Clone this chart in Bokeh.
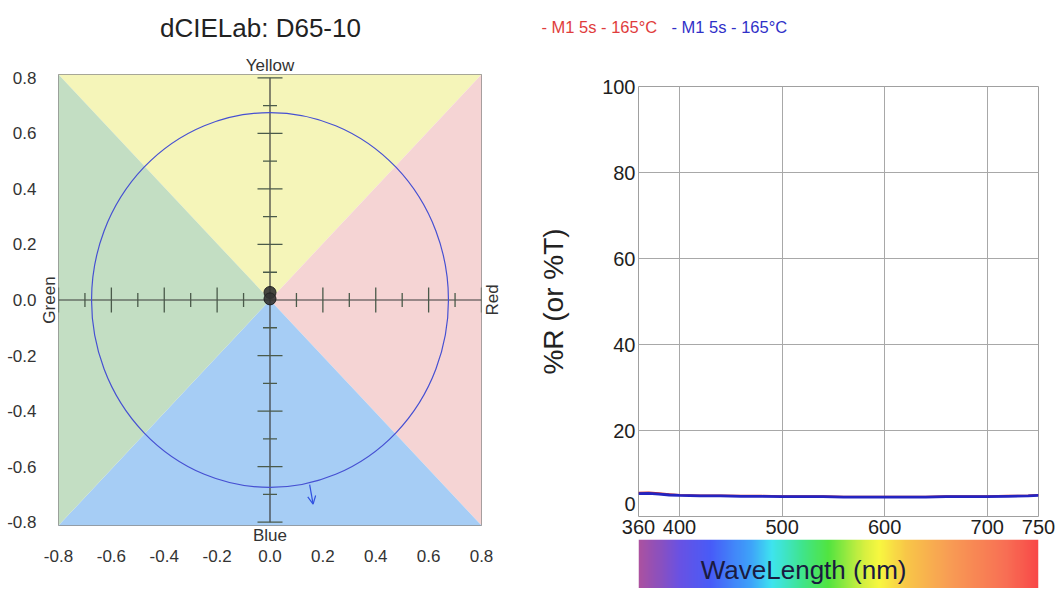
import numpy as np
from math import pi
from bokeh.plotting import figure
from bokeh.layouts import row, column
from bokeh.models import (Arrow, OpenHead, FixedTicker, LinearAxis, Range1d,
                          PrintfTickFormatter, LinearColorMapper)
from bokeh.core.properties import value
from bokeh.embed import file_html
from bokeh.resources import INLINE

FONT = "Liberation Sans"

# ---------------- Left chart data (dCIELab) ----------------
title_text = "dCIELab: D65-10"
axis_ticks = [-0.8, -0.6, -0.4, -0.2, 0.0, 0.2, 0.4, 0.6, 0.8]
major_marks = [-0.8, -0.6, -0.4, -0.2, 0.2, 0.4, 0.6, 0.8]
minor_marks = [-0.7, -0.5, -0.3, -0.1, 0.1, 0.3, 0.5, 0.7]
x_extent = 0.8
y_extent = 0.812
quad_names = ["Yellow", "Red", "Blue", "Green"]
quad_colors = ["#f5f5b9", "#f5d4d4", "#a6cdf5", "#c3dec3"]
da_values = [0.0, 0.0]
db_values = [0.027, 0.004]
tolerance_radius = 0.675
arrow_start = (0.150, -0.665)
arrow_end = (0.163, -0.735)

# ---------------- Right chart data (spectrum) ----------------
wavelengths = [360, 370, 380, 390, 400, 420, 440, 460, 480, 500, 520, 540,
               560, 580, 600, 620, 640, 660, 680, 700, 720, 740, 750]
series_red = [5.5, 5.6, 5.4, 5.2, 5.0, 4.9, 4.9, 4.8, 4.8, 4.7, 4.7, 4.7,
              4.6, 4.6, 4.6, 4.6, 4.6, 4.7, 4.7, 4.7, 4.8, 4.9, 5.0]
series_blue = [5.3, 5.4, 5.2, 5.0, 4.9, 4.8, 4.8, 4.7, 4.7, 4.6, 4.6, 4.6,
               4.5, 4.5, 4.5, 4.5, 4.5, 4.6, 4.6, 4.6, 4.7, 4.8, 4.9]
legend_labels = ["- M1 5s - 165°C", "- M1 5s - 165°C"]
legend_colors = ["#e03c3c", "#3030c8"]
x_tick_values = [360, 400, 500, 600, 700, 750]
x_grid_values = [400, 500, 600, 700]
y_tick_values = [3, 20, 40, 60, 80, 100]   # "0" label sits slightly above the baseline
y_grid_values = [20, 40, 60, 80]
y_axis_title = "%R (or %T)"
x_axis_title = "WaveLength (nm)"
spectrum_nm = [360, 380, 400, 430, 470, 490, 520, 545, 580, 595, 620, 660, 720, 750]
spectrum_rgb = [(172, 82, 160), (140, 80, 190), (105, 82, 228), (72, 92, 248),
                (62, 165, 250), (62, 228, 240), (64, 228, 140), (82, 228, 64),
                (215, 240, 64), (248, 248, 64), (248, 200, 72), (248, 160, 84),
                (248, 110, 84), (248, 72, 72)]

TOTAL_W = 1060
TOP_H = 48
P2_LEFT = 124

# ================= Top strip: title + legend =================
top = figure(frame_width=TOTAL_W, frame_height=TOP_H, min_border=0,
             min_border_left=0, min_border_right=0, min_border_top=0, min_border_bottom=0,
             x_range=Range1d(0, TOTAL_W), y_range=Range1d(TOP_H, 0),
             x_axis_location=None, y_axis_location=None,
             toolbar_location=None, output_backend="svg")
top.grid.visible = False
top.outline_line_color = None
top.text(x=[260], y=[27], text=[title_text], text_font=value(FONT),
         text_font_size="26px", text_color="#222222", text_align="center",
         text_baseline="middle")
top.text(x=[541, 671], y=[26, 26], text=legend_labels, text_color=legend_colors,
         text_font=value(FONT), text_font_size="16.5px", text_baseline="middle",
         text_align="left")

# ================= Left figure =================
p1 = figure(frame_width=423, frame_height=451, min_border_left=58,
            min_border_right=33, min_border_top=26, min_border_bottom=65,
            x_range=Range1d(-x_extent, x_extent),
            y_range=Range1d(-y_extent, y_extent),
            x_axis_location=None, y_axis_location=None,
            toolbar_location=None, output_backend="svg")
p1.grid.visible = False
p1.outline_line_color = "#8c8c8c"

corners = {"Yellow": [(-x_extent, y_extent), (x_extent, y_extent)],
           "Red": [(x_extent, y_extent), (x_extent, -y_extent)],
           "Blue": [(x_extent, -y_extent), (-x_extent, -y_extent)],
           "Green": [(-x_extent, -y_extent), (-x_extent, y_extent)]}
xs = [[corners[n][0][0], corners[n][1][0], 0] for n in quad_names]
ys = [[corners[n][0][1], corners[n][1][1], 0] for n in quad_names]
p1.patches(xs, ys, fill_color=quad_colors, line_color=None)

# cross axes with ticks
p1.segment(x0=[-x_extent, 0], y0=[0, -x_extent], x1=[x_extent, 0], y1=[0, x_extent],
           line_color="#3a3a3a", line_width=1.2)
tick_col = "#4a5a4a"
p1.scatter(x=major_marks, y=[0] * len(major_marks), marker="dash", angle=pi / 2,
           size=25, line_color=tick_col, line_width=1.3)
p1.scatter(x=minor_marks, y=[0] * len(minor_marks), marker="dash", angle=pi / 2,
           size=14, line_color=tick_col, line_width=1.3)
p1.scatter(x=[0] * len(major_marks), y=major_marks, marker="dash",
           size=25, line_color=tick_col, line_width=1.3)
p1.scatter(x=[0] * len(minor_marks), y=minor_marks, marker="dash",
           size=14, line_color=tick_col, line_width=1.3)

p1.ellipse(x=[0], y=[0], width=[2 * tolerance_radius], height=[2 * tolerance_radius],
           fill_color=None, line_color="#4650d2", line_width=1.2)
p1.add_layout(Arrow(end=OpenHead(size=8, line_color="#3050e0", line_width=1.2),
                    x_start=arrow_start[0], y_start=arrow_start[1],
                    x_end=arrow_end[0], y_end=arrow_end[1],
                    line_color="#3050e0", line_width=1.2))
p1.scatter(x=da_values, y=db_values, size=12, fill_color="#333333",
           line_color="#222222", fill_alpha=0.9)


def label_axis(text):
    return LinearAxis(ticker=FixedTicker(ticks=[]), axis_label=text,
                      axis_line_color=None, major_tick_line_color=None,
                      minor_tick_line_color=None, major_tick_out=0, major_tick_in=0,
                      major_label_standoff=0, axis_label_standoff=0,
                      axis_label_text_font=FONT, axis_label_text_font_size="17px",
                      axis_label_text_font_style="normal",
                      axis_label_text_color="#333333")


def tick_axis(standoff):
    return LinearAxis(ticker=FixedTicker(ticks=axis_ticks),
                      formatter=PrintfTickFormatter(format="%.1f"),
                      axis_line_color=None, major_tick_line_color=None,
                      minor_tick_line_color=None, major_tick_out=0, major_tick_in=0,
                      major_label_standoff=standoff,
                      major_label_text_font=FONT, major_label_text_font_size="17px",
                      major_label_text_color="#333333")


p1.add_layout(label_axis(quad_names[2]), "below")
p1.add_layout(tick_axis(2), "below")
p1.add_layout(label_axis(quad_names[3]), "left")
p1.add_layout(tick_axis(0), "left")
p1.add_layout(label_axis(quad_names[0]), "above")

# "Red" is drawn as a rotated tick label; its text starts at the tick and runs
# upward, so the tick sits half a word below the a* axis to centre the word.
red_anchor = -0.056
red_axis = LinearAxis(ticker=FixedTicker(ticks=[red_anchor]),
                      major_label_overrides={red_anchor: quad_names[1]},
                      major_label_orientation=pi / 2,
                      axis_line_color=None, major_tick_line_color=None,
                      minor_tick_line_color=None, major_tick_out=0, major_tick_in=0,
                      major_label_standoff=11,
                      major_label_text_font=FONT, major_label_text_font_size="17px",
                      major_label_text_color="#333333")
p1.add_layout(red_axis, "right")

# ================= Right figure =================
p2 = figure(frame_width=400, frame_height=430, min_border_left=P2_LEFT,
            min_border_right=22, min_border_top=38, min_border_bottom=23,
            x_range=Range1d(wavelengths[0], wavelengths[-1]), y_range=Range1d(0, 100),
            toolbar_location=None, output_backend="svg")
p2.outline_line_color = "#a0a0a0"
p2.xgrid.ticker = FixedTicker(ticks=x_grid_values)
p2.ygrid.ticker = FixedTicker(ticks=y_grid_values)
p2.grid.grid_line_color = "#a8a8a8"
p2.grid.grid_line_width = 1
p2.grid.grid_line_alpha = 1

p2.line(wavelengths, series_red, line_color="#d03030", line_width=2)
p2.line(wavelengths, series_blue, line_color="#2424c0", line_width=2.8)

p2.xaxis.ticker = FixedTicker(ticks=x_tick_values)
p2.yaxis.ticker = FixedTicker(ticks=y_tick_values)
p2.yaxis.major_label_overrides = {3: "0"}
for ax in (p2.xaxis, p2.yaxis):
    ax.axis_line_color = None
    ax.major_tick_line_color = None
    ax.minor_tick_line_color = None
    ax.major_tick_out = 0
    ax.major_tick_in = 0
    ax.major_label_text_font = FONT
    ax.major_label_text_font_size = "20px"
    ax.major_label_text_color = "#1e1e1e"
    ax.major_label_standoff = 3
p2.yaxis.axis_label = y_axis_title
p2.yaxis.axis_label_text_font = FONT
p2.yaxis.axis_label_text_font_size = "28px"
p2.yaxis.axis_label_text_font_style = "normal"
p2.yaxis.axis_label_text_color = "#222222"
p2.yaxis.axis_label_standoff = 30

# ================= Spectrum bar =================
anch = np.array(spectrum_rgb, dtype=float)
n_cols = 390
mids = np.linspace(spectrum_nm[0], spectrum_nm[-1], n_cols)
pal = ["#%02x%02x%02x" % (int(np.interp(m, spectrum_nm, anch[:, 0])),
                          int(np.interp(m, spectrum_nm, anch[:, 1])),
                          int(np.interp(m, spectrum_nm, anch[:, 2]))) for m in mids]
spec_mapper = LinearColorMapper(palette=pal, low=mids[0], high=mids[-1])
spec = figure(frame_width=400, frame_height=49, min_border_left=P2_LEFT,
              min_border_right=22, min_border_top=0, min_border_bottom=0,
              x_range=Range1d(wavelengths[0], wavelengths[-1]), y_range=Range1d(0, 1),
              x_axis_location=None, y_axis_location=None,
              toolbar_location=None, output_backend="svg")
spec.grid.visible = False
spec.outline_line_color = None
spec.image(image=[np.array([mids])], x=wavelengths[0], y=0,
           dw=wavelengths[-1] - wavelengths[0], dh=1, color_mapper=spec_mapper)
spec.text(x=[521], y=[0.38], text=[x_axis_title], text_font=value(FONT),
          text_font_size="26px", text_color="#1a1a40", text_align="center",
          text_baseline="middle")

layout = column(top, row(p1, column(p2, spec)))
open("out.html", "w").write(file_html(layout, INLINE))
